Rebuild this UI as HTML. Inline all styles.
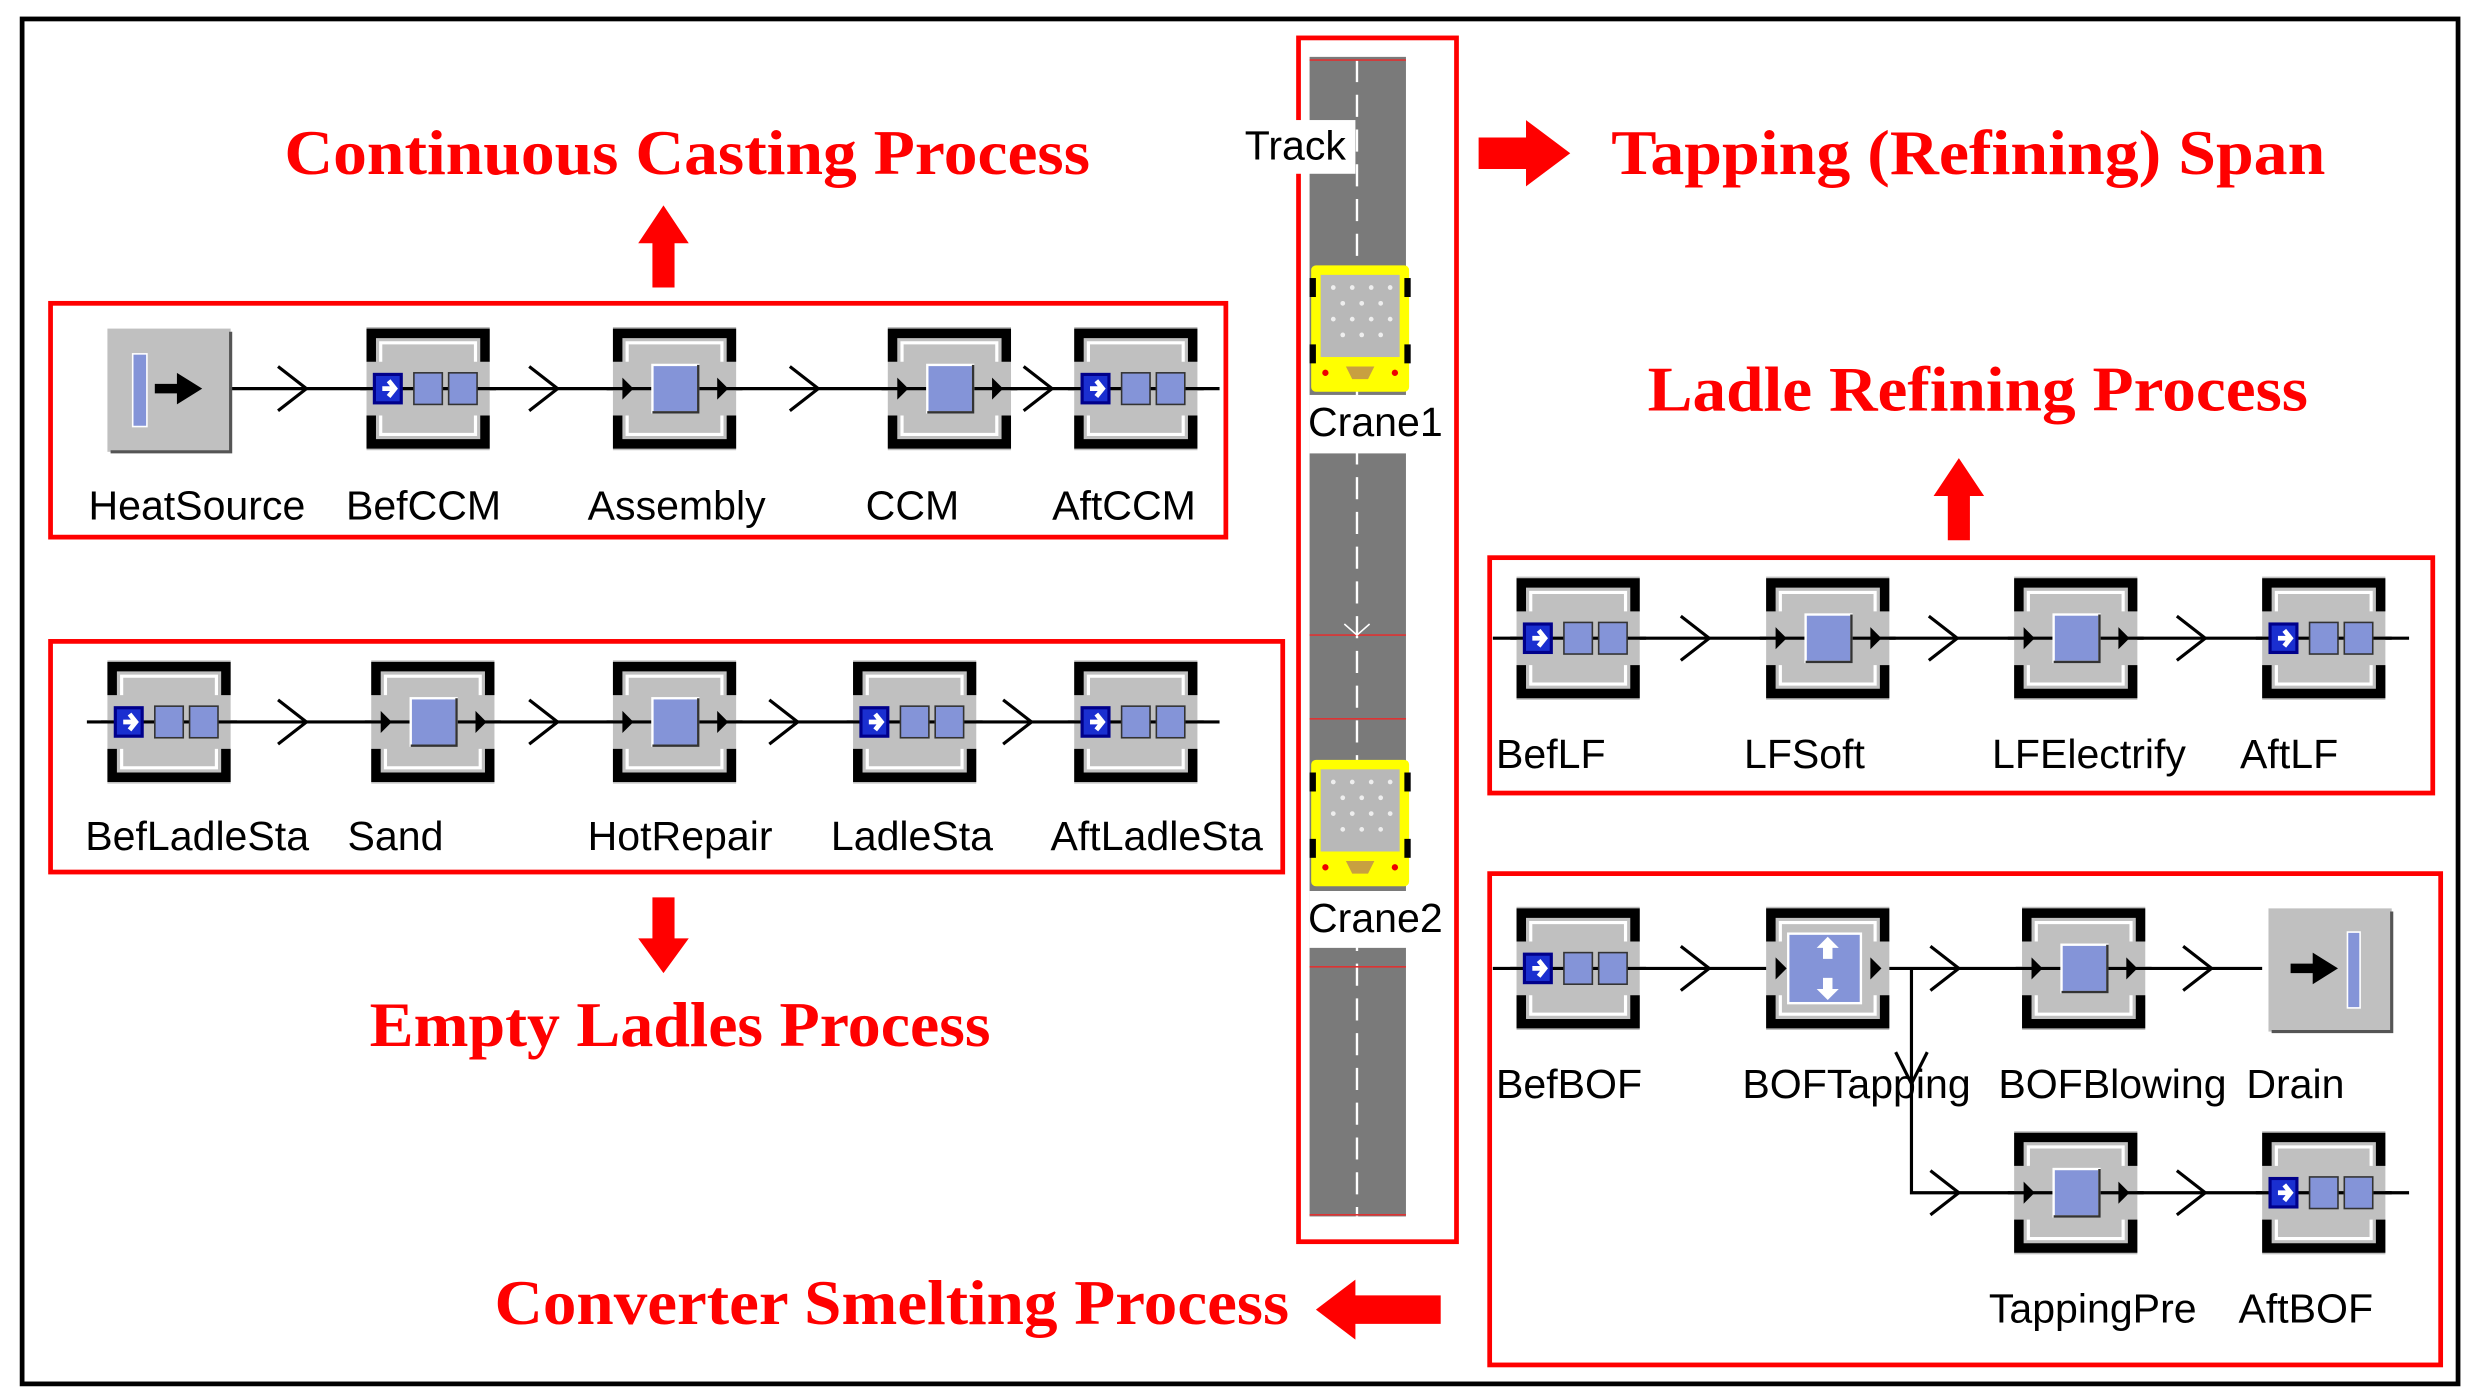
<!DOCTYPE html>
<html><head><meta charset="utf-8"><style>
html,body{margin:0;padding:0;background:#fff;}
svg{display:block;}
.t{font-family:"Liberation Serif",serif;font-weight:bold;fill:#f00;font-size:40px;}
.l{font-family:"Liberation Sans",sans-serif;fill:#000;font-size:26px;}
</style></head><body>
<svg width="2477" height="1397" viewBox="0 0 1568 884.3" preserveAspectRatio="none" xmlns="http://www.w3.org/2000/svg">
<defs>
<g id="frame">
<rect x="0" y="0" width="78" height="78" fill="#c0c0c0"/>
<path d="M3 22 V4 H75 V22" fill="none" stroke="#000" stroke-width="6"/>
<path d="M9 22 V10 H69 V22" fill="none" stroke="#fff" stroke-width="2"/>
<path d="M3 56 V74 H75 V56" fill="none" stroke="#000" stroke-width="6"/>
<path d="M9 56 V68 H69 V56" fill="none" stroke="#fff" stroke-width="2"/>
</g>
<g id="buf">
<use href="#frame"/>
<line x1="-4" y1="39" x2="82" y2="39" stroke="#000" stroke-width="2"/>
<rect x="4" y="29" width="19" height="20" fill="#00008b"/>
<rect x="6" y="31" width="15" height="16" fill="#1a2fd0"/>
<path d="M10 39 H17 M14 34 L18 39 L14 44" stroke="#fff" stroke-width="3" fill="none"/>
<rect x="30" y="29" width="18" height="20" fill="#8494d8" stroke="#333" stroke-width="1"/>
<rect x="52" y="29" width="18" height="20" fill="#8494d8" stroke="#333" stroke-width="1"/>
</g>
<g id="srv">
<use href="#frame"/>
<line x1="-4" y1="39" x2="82" y2="39" stroke="#000" stroke-width="2"/>
<path d="M6 32 L13 39 L6 46 Z" fill="#000"/>
<path d="M66 32 L73 39 L66 46 Z" fill="#000"/>
<rect x="25" y="24" width="29" height="30" fill="#8494d8" stroke="#fff" stroke-width="1.5"/>
<path d="M25 54 H54 V24" stroke="#333" stroke-width="1.5" fill="none"/>
</g>
<g id="chev"><path d="M-12 -14 L6 0 L-12 14" fill="none" stroke="#000" stroke-width="2"/></g>
<g id="crane">
<rect x="0" y="0" width="62" height="80" fill="#ffff00" rx="3"/>
<rect x="6" y="6" width="50" height="52" fill="#b8b8b8"/>
<g fill="#eee">
<circle cx="14" cy="14" r="1.5"/><circle cx="26" cy="14" r="1.5"/><circle cx="38" cy="14" r="1.5"/><circle cx="50" cy="14" r="1.5"/>
<circle cx="20" cy="24" r="1.5"/><circle cx="32" cy="24" r="1.5"/><circle cx="44" cy="24" r="1.5"/>
<circle cx="14" cy="34" r="1.5"/><circle cx="26" cy="34" r="1.5"/><circle cx="38" cy="34" r="1.5"/><circle cx="50" cy="34" r="1.5"/>
<circle cx="20" cy="44" r="1.5"/><circle cx="32" cy="44" r="1.5"/><circle cx="44" cy="44" r="1.5"/>
</g>
<rect x="-1" y="8" width="4" height="12" fill="#000"/><rect x="59" y="8" width="4" height="12" fill="#000"/>
<rect x="-1" y="50" width="4" height="12" fill="#000"/><rect x="59" y="50" width="4" height="12" fill="#000"/>
<path d="M22 64 H40 L36 72 H26 Z" fill="#c8a040"/>
<circle cx="9" cy="68" r="2" fill="#e00"/><circle cx="53" cy="68" r="2" fill="#e00"/>
</g>
</defs>

<rect x="14" y="12" width="1542" height="864" fill="none" stroke="#000" stroke-width="3"/>

<!-- Titles -->
<text class="t" x="180" y="110" textLength="510" lengthAdjust="spacingAndGlyphs">Continuous Casting Process</text>
<text class="t" x="1020" y="110" textLength="452" lengthAdjust="spacingAndGlyphs">Tapping (Refining) Span</text>
<text class="t" x="1043" y="260" textLength="418" lengthAdjust="spacingAndGlyphs">Ladle Refining Process</text>
<text class="t" x="234" y="662" textLength="393" lengthAdjust="spacingAndGlyphs">Empty Ladles Process</text>
<text class="t" x="313" y="838" textLength="503" lengthAdjust="spacingAndGlyphs">Converter Smelting Process</text>

<!-- Red arrows -->
<path d="M413 182 V154 H404 L420 130 L436 154 H427 V182 Z" fill="#f00"/>
<path d="M1233 342 V314 H1224 L1240 290 L1256 314 H1247 V342 Z" fill="#f00"/>
<path d="M413 568 V594 H404 L420 616 L436 594 H427 V568 Z" fill="#f00"/>
<path d="M936 87 H966 V76 L994 97 L966 118 V107 H936 Z" fill="#f00"/>
<path d="M912 820 H858 V810 L833 829 L858 848 V838 H912 Z" fill="#f00"/>

<!-- Red boxes -->
<g fill="none" stroke="#f00" stroke-width="3">
<rect x="32" y="192" width="744" height="148"/>
<rect x="32" y="406" width="780" height="146"/>
<rect x="822" y="24" width="100" height="762"/>
<rect x="943" y="353" width="597" height="149"/>
<rect x="943" y="553" width="602" height="311"/>
</g>

<!-- Track -->
<rect x="829" y="36" width="61" height="734" fill="#7a7a7a"/>
<line x1="859" y1="38" x2="859" y2="770" stroke="#fff" stroke-width="1.5" stroke-dasharray="14 8"/>
<g stroke="#d33" stroke-width="1">
<line x1="829" y1="38" x2="890" y2="38"/><line x1="829" y1="402" x2="890" y2="402"/>
<line x1="829" y1="455" x2="890" y2="455"/><line x1="829" y1="612" x2="890" y2="612"/>
<line x1="829" y1="769" x2="890" y2="769"/>
</g>
<path d="M851 395 L859 402 L867 395" stroke="#fff" fill="none" stroke-width="1"/>
<rect x="788" y="76" width="70" height="34" fill="#fff"/>
<text class="l" x="788" y="101">Track</text>
<rect x="829" y="250" width="62" height="37" fill="#fff"/>
<rect x="829" y="564" width="62" height="36" fill="#fff"/>
<use href="#crane" x="830" y="168"/>
<use href="#crane" x="830" y="481"/>
<text class="l" x="828" y="276">Crane1</text>
<text class="l" x="828" y="590">Crane2</text>

<!-- Row 1 : CC -->
<line x1="146" y1="246" x2="772" y2="246" stroke="#000" stroke-width="2"/>
<rect x="68" y="208" width="78" height="78" fill="#c0c0c0"/>
<path d="M70 286 H146 V210" stroke="#555" stroke-width="2" fill="none"/>
<rect x="84" y="224" width="9" height="46" fill="#8494d8" stroke="#fff" stroke-width="1"/>
<path d="M98 243 H112 V236 L128 246 L112 256 V249 H98 Z" fill="#000"/>
<use href="#buf" x="232" y="207"/>
<use href="#srv" x="388" y="207"/>
<use href="#srv" x="562" y="207"/>
<use href="#buf" x="680" y="207"/>
<use href="#chev" x="188" y="246"/><use href="#chev" x="347" y="246"/>
<use href="#chev" x="512" y="246"/><use href="#chev" x="660" y="246"/>
<text class="l" x="56" y="329">HeatSource</text>
<text class="l" x="219" y="329">BefCCM</text>
<text class="l" x="372" y="329">Assembly</text>
<text class="l" x="548" y="329">CCM</text>
<text class="l" x="666" y="329">AftCCM</text>

<!-- Row 2 : Empty ladles -->
<line x1="55" y1="457" x2="772" y2="457" stroke="#000" stroke-width="2"/>
<use href="#buf" x="68" y="418"/>
<use href="#srv" x="235" y="418"/>
<use href="#srv" x="388" y="418"/>
<use href="#buf" x="540" y="418"/>
<use href="#buf" x="680" y="418"/>
<use href="#chev" x="188" y="457"/><use href="#chev" x="347" y="457"/>
<use href="#chev" x="499" y="457"/><use href="#chev" x="647" y="457"/>
<text class="l" x="54" y="538">BefLadleSta</text>
<text class="l" x="220" y="538">Sand</text>
<text class="l" x="372" y="538">HotRepair</text>
<text class="l" x="526" y="538">LadleSta</text>
<text class="l" x="665" y="538">AftLadleSta</text>

<!-- LF row -->
<line x1="945" y1="404" x2="1525" y2="404" stroke="#000" stroke-width="2"/>
<use href="#buf" x="960" y="365"/>
<use href="#srv" x="1118" y="365"/>
<use href="#srv" x="1275" y="365"/>
<use href="#buf" x="1432" y="365"/>
<use href="#chev" x="1076" y="404"/><use href="#chev" x="1233" y="404"/><use href="#chev" x="1390" y="404"/>
<text class="l" x="947" y="486">BefLF</text>
<text class="l" x="1104" y="486">LFSoft</text>
<text class="l" x="1261" y="486">LFElectrify</text>
<text class="l" x="1418" y="486">AftLF</text>

<!-- BOF -->
<line x1="945" y1="613" x2="1432" y2="613" stroke="#000" stroke-width="2"/>
<path d="M1210 613 V755 H1525" fill="none" stroke="#000" stroke-width="2"/>
<use href="#buf" x="960" y="574"/>
<use href="#frame" x="1118" y="574"/>
<path d="M1124 606 L1131 613 L1124 620 Z" fill="#000"/>
<path d="M1184 606 L1191 613 L1184 620 Z" fill="#000"/>
<rect x="1132" y="591" width="46" height="44" fill="#8494d8" stroke="#fff" stroke-width="1.5"/>
<path d="M1150 600 L1157 593 L1164 600 H1160 V607 H1154 V600 Z M1150 626 L1157 633 L1164 626 H1160 V619 H1154 V626 Z" fill="#fff"/>
<use href="#srv" x="1280" y="574"/>
<rect x="1436" y="575" width="78" height="78" fill="#c0c0c0"/>
<path d="M1438 653 H1514 V577" stroke="#555" stroke-width="2" fill="none"/>
<path d="M1450 610 H1464 V603 L1480 613 L1464 623 V616 H1450 Z" fill="#000"/>
<rect x="1486" y="590" width="8" height="48" fill="#8494d8" stroke="#fff" stroke-width="1"/>
<use href="#srv" x="1275" y="716"/>
<use href="#buf" x="1432" y="716"/>
<use href="#chev" x="1076" y="613"/><use href="#chev" x="1234" y="613"/><use href="#chev" x="1394" y="613"/>
<path d="M1200 666 L1210 686 L1220 666" fill="none" stroke="#000" stroke-width="2"/>
<use href="#chev" x="1234" y="755"/><use href="#chev" x="1390" y="755"/>
<text class="l" x="947" y="695">BefBOF</text>
<text class="l" x="1103" y="695">BOFTapping</text>
<text class="l" x="1265" y="695">BOFBlowing</text>
<text class="l" x="1422" y="695">Drain</text>
<text class="l" x="1259" y="837">TappingPre</text>
<text class="l" x="1417" y="837">AftBOF</text>
</svg>
</body></html>
